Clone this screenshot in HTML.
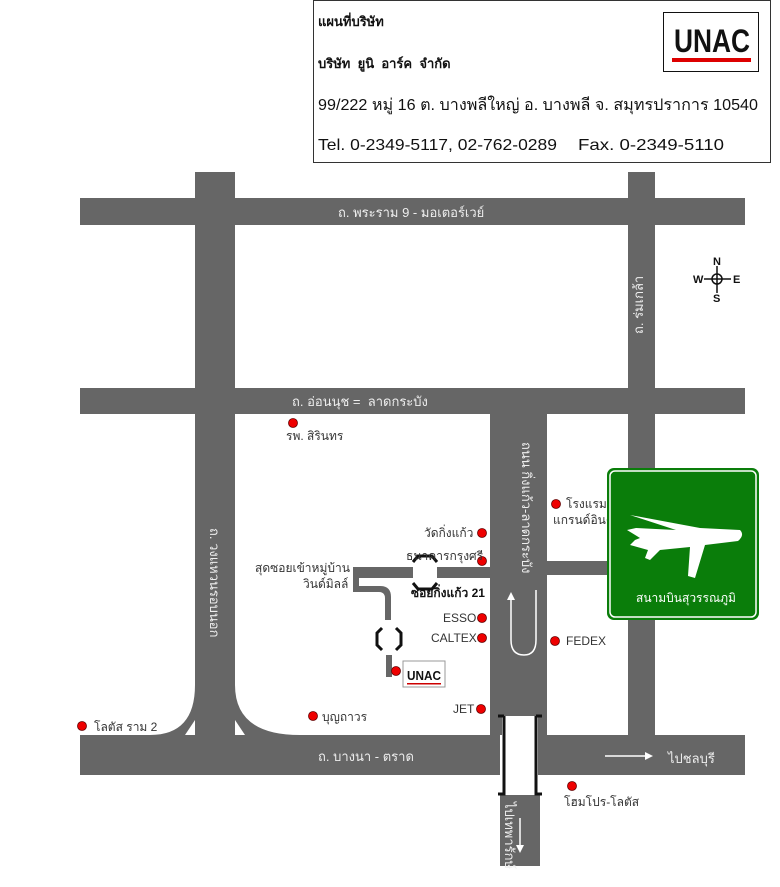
<!DOCTYPE html>
<html><head><meta charset="utf-8"><style>
body{margin:0;background:#fff;width:780px;height:887px;overflow:hidden}
svg{display:block}
text{font-family:"Liberation Sans","Noto Sans CJK SC",sans-serif;white-space:pre}
</style></head><body>
<svg width="780" height="887" viewBox="0 0 780 887" xmlns="http://www.w3.org/2000/svg">
<g fill="#666">
<rect x="80" y="198" width="665" height="27"/>
<rect x="80" y="388" width="665" height="26"/>
<rect x="195" y="172" width="40" height="570"/>
<rect x="628" y="172" width="27" height="570"/>
<rect x="80" y="735" width="420" height="40"/>
<rect x="538" y="735" width="207" height="40"/>
<rect x="490" y="414" width="57" height="321"/>
<rect x="500" y="795" width="40" height="71"/>
<rect x="547" y="561" width="62" height="14"/>
<rect x="355" y="567" width="58" height="11"/>
<rect x="437" y="567" width="53" height="11"/>
<rect x="353" y="567" width="6" height="25"/>
<path d="M353 586 H380 Q391 586 391 597 V620 H385 V598 Q385 592 379 592 H353 Z"/>
<rect x="386" y="655" width="6" height="22"/>
<path d="M195 685 Q195 735 150 735 H195 Z"/>
<path d="M235 685 Q235 735 300 735 H235 Z"/>
</g>
<path d="M185 735 L195 720 V735 Z M245 735 L235 720 V735 Z" fill="#fff"/>
<rect x="502" y="716" width="36" height="78" fill="#fff"/>
<path d="M498 716 h6 M504 716 v78 h-6 M536 716 h6 M536 716 v78 h6" stroke="#111" stroke-width="3" fill="none"/>
<path d="M413 562 l5 -6 h14 l5 6 M413 583 l5 6 h14 l5 -6" stroke="#111" stroke-width="3" fill="none"/>
<path d="M382 628 l-5 5 v12 l5 5 M396 628 l5 5 v12 l-5 5" stroke="#111" stroke-width="3" fill="none"/>
<path d="M511 600 V640 Q511 655 524 655 Q536 655 536 640 V590" stroke="#fff" stroke-width="1.5" fill="none"/>
<path d="M507 600 L511 592 L515 600" fill="#fff"/>
<path d="M605 756 H648" stroke="#fff" stroke-width="1.5"/><path d="M645 752 L653 756 L645 760Z" fill="#fff"/>
<path d="M520 818 V848" stroke="#fff" stroke-width="1.5"/><path d="M516 845 L520 853 L524 845Z" fill="#fff"/>
<g fill="#eee" font-size="13">
<text x="338" y="217">ถ. พระราม 9 - มอเตอร์เวย์</text>
<text x="292" y="406">ถ. อ่อนนุช =  ลาดกระบัง</text>
<text x="318" y="761">ถ. บางนา - ตราด</text>
<text x="668" y="763">ไปชลบุรี</text>
<text transform="translate(210,528) rotate(90)">ถ. วงแหวนรอบนอก</text>
<text transform="translate(643,334) rotate(-90)">ถ. ร่มเกล้า</text>
<text transform="translate(522,442) rotate(90)">ถนน กิ่งแก้ว-ลาดกระบัง</text>
<text transform="translate(505,802) rotate(90)">ไปเทพารักษ์</text>
</g>
<g fill="#e00" stroke="#600" stroke-width="0.8">
<circle cx="293" cy="423" r="4.5"/><circle cx="82" cy="726" r="4.5"/><circle cx="313" cy="716" r="4.5"/>
<circle cx="482" cy="533" r="4.5"/><circle cx="482" cy="561" r="4.5"/><circle cx="482" cy="618" r="4.5"/>
<circle cx="482" cy="638" r="4.5"/><circle cx="481" cy="709" r="4.5"/><circle cx="556" cy="504" r="4.5"/>
<circle cx="555" cy="641" r="4.5"/><circle cx="572" cy="786" r="4.5"/><circle cx="396" cy="671" r="4.5"/>
</g>
<g fill="#333" font-size="12">
<text x="286" y="440">รพ. สิรินทร</text>
<text x="94" y="731">โลตัส ราม 2</text>
<text x="322" y="721">บุญถาวร</text>
<text x="424" y="537">วัดกิ่งแก้ว</text>
<text x="406" y="560">ธนาคารกรุงศรี</text>
<text x="411" y="597" font-weight="bold" fill="#111">ซอยกิ่งแก้ว 21</text>
<text x="443" y="622">ESSO</text>
<text x="431" y="642">CALTEX</text>
<text x="453" y="713">JET</text>
<text x="566" y="508">โรงแรม</text>
<text x="553" y="524">แกรนด์อินคำ</text>
<text x="566" y="645">FEDEX</text>
<text x="564" y="806">โฮมโปร-โลตัส</text>
<text x="255" y="572">สุดซอยเข้าหมู่บ้าน</text>
<text x="303" y="588">วินด์มิลล์</text>
</g>
<rect x="403" y="661" width="42" height="26" fill="#fff" stroke="#999"/>
<text x="407" y="680" font-size="13" font-weight="bold" fill="#111" textLength="34" lengthAdjust="spacingAndGlyphs">UNAC</text>
<rect x="407" y="683" width="34" height="1.5" fill="#c00"/>
<rect x="607" y="468" width="152" height="152" rx="7" fill="#0a7d0a"/>
<rect x="610" y="471" width="146" height="146" rx="5" fill="none" stroke="#fff" stroke-width="1.5"/>
<path d="M630 515 L700 528 L740 530 Q745 535 738 541 L705 545 L695 578 L688 576 L690 547 L660 550 L650 560 L645 558 L648 550 L630 545 L635 540 L640 538 L627 530 L636 528 L676 530 Z" fill="#fff"/>
<text x="636" y="602" font-size="12" fill="#fff">สนามบินสุวรรณภูมิ</text>
<g stroke="#111" stroke-width="1.5" fill="none">
<circle cx="717" cy="279" r="5"/><path d="M717 266 V293 M704 279 H731"/>
</g>
<g font-size="11" font-weight="bold" fill="#111">
<text x="713" y="265">N</text><text x="713" y="302">S</text><text x="693" y="283">W</text><text x="733" y="283">E</text>
</g>
<rect x="313.5" y="0.5" width="457" height="162" fill="#fff" stroke="#333"/>
<g font-size="16" fill="#111">
<text x="318" y="26" font-size="13" font-weight="bold">แผนที่บริษัท</text>
<text x="318" y="68" font-size="13" font-weight="bold">บริษัท  ยูนิ  อาร์ค  จำกัด</text>
<text x="318" y="110" textLength="440" lengthAdjust="spacingAndGlyphs">99/222 หมู่ 16 ต. บางพลีใหญ่ อ. บางพลี จ. สมุทรปราการ 10540</text>
<text x="318" y="150" textLength="239" lengthAdjust="spacingAndGlyphs">Tel. 0-2349-5117, 02-762-0289</text>
<text x="578" y="150" textLength="146" lengthAdjust="spacingAndGlyphs">Fax. 0-2349-5110</text>
</g>
<rect x="663.5" y="12.5" width="95" height="59" fill="#fff" stroke="#111"/>
<text x="674" y="52" font-size="32" font-weight="bold" fill="#111" textLength="76" lengthAdjust="spacingAndGlyphs">UNAC</text>
<rect x="672" y="58" width="79" height="4" fill="#d00"/>
</svg>
</body></html>
